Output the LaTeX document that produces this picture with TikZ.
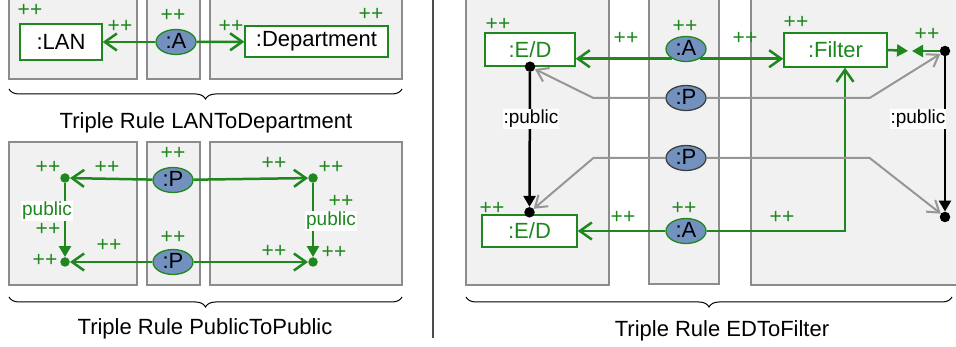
\documentclass[tikz,border=0pt]{standalone}
\usepackage{fontspec}
\setmainfont{Liberation Sans}
\usetikzlibrary{arrows.meta,shapes.geometric,decorations.pathreplacing}

\definecolor{tggreen}{RGB}{30,135,30}
\definecolor{tgblue}{RGB}{115,145,190}
\definecolor{tgpanel}{RGB}{241,241,241}
\definecolor{tgframe}{RGB}{140,140,140}
\definecolor{tggray}{RGB}{150,150,150}

\tikzset{
  panel/.style={fill=tgpanel, draw=tgframe, line width=1.5},
  objbox/.style={draw=tggreen, fill=white, line width=1.4, inner sep=0pt,
    font=\fontsize{22}{24}\selectfont},
  link/.style={ellipse, draw=tggreen, fill=tgblue, line width=1.3, inner sep=0pt,
    minimum width=40, minimum height=25, text height=14pt, text depth=1pt,
    font=\fontsize{22}{24}\selectfont},
  oldlink/.style={link, draw=black!75},
  gdot/.style={circle, fill=tggreen, inner sep=0pt, minimum size=9.5},
  bdot/.style={circle, fill=black, inner sep=0pt, minimum size=10.5},
  plus/.style={text=tggreen, inner sep=0pt, font=\fontsize{21}{22}\selectfont},
  elabel/.style={fill=white, inner sep=1pt, font=\fontsize{19}{20}\selectfont},
  gedge/.style={draw=tggreen, line width=2.5, -{Straight Barb[length=12pt,width=17pt]}},
  gtri/.style={draw=tggreen, line width=2.5, -{Triangle[length=11pt,width=12pt]}},
  bedge/.style={draw=black, line width=2.5, -{Triangle[length=11pt,width=12pt]}},
  pedge/.style={draw=tggray, line width=2, -{Straight Barb[length=11pt,width=15pt]}},
  rulebrace/.style={decorate, decoration={brace, amplitude=10pt}, line width=1},
  rulename/.style={anchor=base, font=\fontsize{22}{24}\selectfont}
}

\begin{document}
\begin{tikzpicture}[x=1pt, y=-1pt]
\clip (0,0) rectangle (956,347);

% Triple Rule LANToDepartment
\draw[panel] (9,-5) rectangle (137,79);
\draw[panel] (147,-5) rectangle (200,79);
\draw[panel] (210,-5) rectangle (402,79);

\node[objbox, minimum width=82, minimum height=36] (lan) at (61,42) {:LAN};
\node[link] (aL) at (176,42) {:A};
\node[objbox, minimum width=143, minimum height=31] (dept) at (316.5,41.5) {:Department};

\draw[gedge] (aL) -- (lan);
\draw[gedge] (aL) -- (dept);

\draw[rulebrace] (402,89) -- (9,89);
\node[rulename] (nameLD) at (206,129) {Triple Rule LANToDepartment};

% Triple Rule PublicToPublic
\draw[panel] (9,142) rectangle (137,285);
\draw[panel] (147,142) rectangle (200,285);
\draw[panel] (210,142) rectangle (402,285);

\node[gdot] (lt) at (65,178) {};
\node[gdot] (lb) at (65,262) {};
\node[gdot] (rt) at (313,178) {};
\node[gdot] (rb) at (313,262) {};
\node[link] (pT) at (173,180) {:P};
\node[link] (pB) at (173,262) {:P};

\draw[gedge] (pT) -- (lt);
\draw[gedge] (pT) -- (rt);
\draw[gedge] (pB) -- (lb);
\draw[gedge] (pB) -- (rb);
\draw[gtri] (lt) -- (lb);
\draw[gtri] (rt) -- (rb);
\node[elabel, text=tggreen] (pubL) at (47,211) {public};
\node[elabel, text=tggreen] (pubR) at (331,221) {public};

\draw[rulebrace] (402,297) -- (9,297);
\node[rulename] (namePP) at (205,335) {Triple Rule PublicToPublic};

% Triple Rule EDToFilter
\draw[panel] (466,-5) rectangle (609,285);
\draw[panel] (649,-5) rectangle (719,284);
\draw[panel] (751,-5) rectangle (970,285);

\node[objbox, text=tggreen, minimum width=90, minimum height=33] (edT) at (530,49.5) {:E/D};
\node[objbox, text=tggreen, minimum width=95, minimum height=32] (edB) at (529.5,231) {:E/D};
\node[objbox, text=tggreen, minimum width=103, minimum height=34] (filter) at (835.5,50) {:Filter};
\node[bdot] (dTL) at (edT.south) {};
\node[bdot] (dBL) at ([yshift=2]edB.north) {};
\node[bdot] (dTR) at (945,51) {};
\node[bdot] (dBR) at (945,217) {};
\node[link] (aT) at (686,49) {:A};
\node[oldlink] (pA) at (686,98) {:P};
\node[oldlink] (pC) at (686,158) {:P};
\node[link] (aB) at (686,231) {:A};
\coordinate (meet) at (910,51);

\draw[gedge] (aT.215) -- (aT.215 -| edT.east);
\draw[gedge] (aT.325) -- (aT.325 -| filter.west);
\draw[gedge] (aB) -- (edB);
\draw[gedge] (aB.east) -| ([xshift=9.5]filter.south);
\draw[gtri, shorten >=2pt] (filter.east) -- (meet);
\draw[gtri, shorten >=2pt] (dTR) -- (meet);

\draw[pedge] (pA.west) -- ++(-72,0) -- (dTL);
\draw[pedge] (pA.east) -- ++(163,0) -- (dTR);
\draw[pedge] (pC.west) -- ++(-72,0) -- (dBL);
\draw[pedge] (pC.east) -- ++(163,0) -- (dBR);

\draw[bedge] (dTL) -- (dBL);
\draw[bedge] (dTR) -- (dBR);
\node[elabel] (pubTL) at (531,119) {:public};
\node[elabel] (pubTR) at (918,119) {:public};

\draw[rulebrace] (952,297) -- (466,297);
\node[rulename] (nameEF) at (722,337) {Triple Rule EDToFilter};

% ++ marks
\foreach \px/\py [count=\i] in {30/10, 120/26, 173/15, 231/26, 371/14,
    48/167, 107/167, 173/153, 274/163, 331/167, 341/201, 48/229, 109/245,
    173/237, 45/260, 274/251, 334/252,
    498/24, 626/38, 685/26, 745/38, 796/22, 927/34, 492/208, 623/217,
    684/208, 782/217}
  \node[plus] (pp\i) at (\px,\py) {++};

\draw[line width=1.5, black!70] (433,0) -- (433,338);

\end{tikzpicture}
\end{document}
